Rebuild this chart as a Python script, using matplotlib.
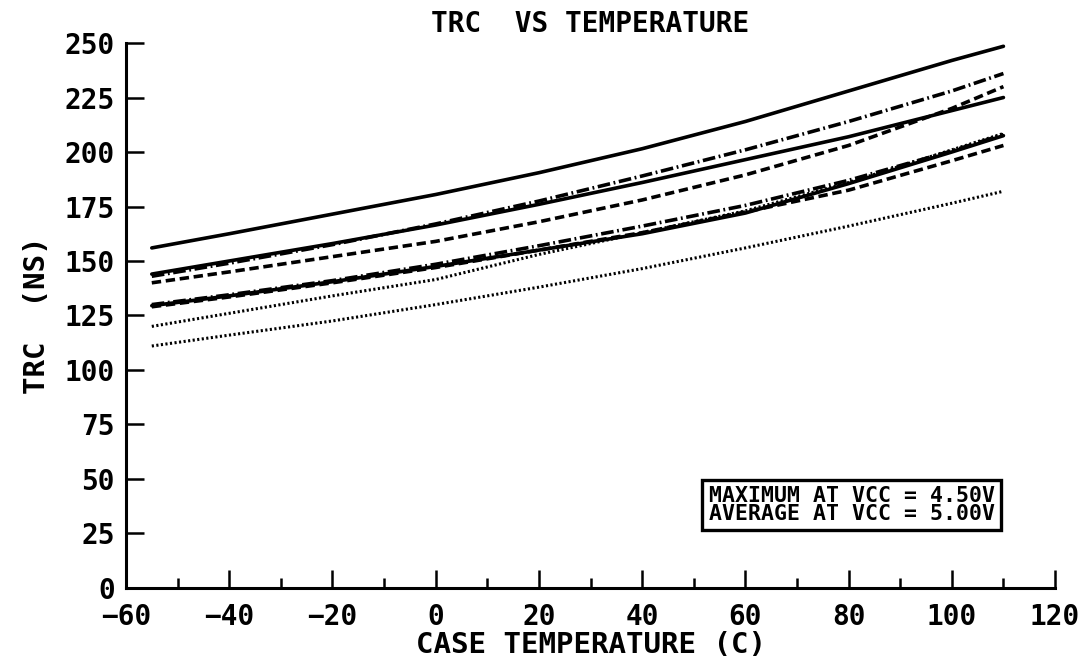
import matplotlib
matplotlib.use('Agg')
import matplotlib.pyplot as plt
import numpy as np

# temperature points (C) and TRC values (ns)
temp = [-55, -40, -20, 0, 20, 40, 60, 80, 100, 110]

trc_a = [156, 162.5, 171.5, 180.5, 190.5, 201.5, 214, 228, 242, 248.5]   # solid, top
trc_b = [143, 149, 157.5, 167, 177.5, 189, 201, 214, 228, 236]           # dash-dot, upper
trc_c = [144, 150, 158, 166.5, 176, 186, 196.5, 207, 219, 225]           # solid, upper
trc_d = [140, 145, 152, 159, 168, 178, 189.5, 203, 220, 230]             # dashed, upper
trc_e = [129.5, 134, 140.5, 147.5, 155, 162.5, 172, 185.5, 200, 207.5]   # solid, lower
trc_f = [130, 134.5, 141, 148.5, 157, 166, 175.5, 187, 200.5, 208]       # dash-dot, lower
trc_g = [129, 133.5, 140, 147, 155, 163, 172.5, 182.5, 196, 203]         # dashed, lower
trc_h = [120, 126, 134, 141.5, 153, 163, 173, 186, 201, 208.5]           # dotted, upper
trc_i = [111, 116, 122.5, 130, 138, 146.5, 156, 166, 176.5, 182]         # dotted, bottom

x_ticks = np.arange(-60, 121, 20)
y_ticks = np.arange(0, 251, 25)

plt.rcParams['font.family'] = ['DejaVu Sans Mono']
plt.rcParams['font.weight'] = 'bold'

fig = plt.figure(figsize=(10.87, 6.68), dpi=100)
ax = fig.add_axes([0.1159, 0.1198, 0.8547, 0.8158])

lw = 2.6
solid = dict(color='black', lw=lw, solid_capstyle='round')
ax.plot(temp, trc_a, '-', **solid)
ax.plot(temp, trc_c, '-', **solid)
ax.plot(temp, trc_e, '-', **solid)
ax.plot(temp, trc_b, color='black', lw=lw, dashes=(3.5, 1.0, 0.5, 1.0))
ax.plot(temp, trc_f, color='black', lw=lw, dashes=(3.5, 1.0, 0.5, 1.0))
ax.plot(temp, trc_d, color='black', lw=lw, dashes=(2.6, 1.3))
ax.plot(temp, trc_g, color='black', lw=lw, dashes=(2.6, 1.3))
ax.plot(temp, trc_h, color='black', lw=2.2, dashes=(0.7, 0.8))
ax.plot(temp, trc_i, color='black', lw=2.2, dashes=(0.7, 0.8))

ax.set_xlim(-60, 120)
ax.set_ylim(0, 250)
ax.set_xticks(x_ticks)
ax.set_xticks(np.arange(-50, 120, 20), minor=True)
ax.set_yticks(y_ticks)

for s in ['top', 'right']:
    ax.spines[s].set_visible(False)
for s in ['left', 'bottom']:
    ax.spines[s].set_linewidth(2.2)

ax.tick_params(axis='both', which='major', direction='in', length=13, width=1.8,
               labelsize=20)
ax.tick_params(axis='x', which='minor', direction='in', length=7, width=1.8)
ax.tick_params(axis='x', which='major', pad=11)
ax.tick_params(axis='y', which='major', pad=8)
for lab in ax.get_xticklabels() + ax.get_yticklabels():
    lab.set_fontweight('bold')

ax.set_title('TRC  VS TEMPERATURE', fontsize=20, fontweight='bold', pad=8)
ax.set_xlabel('CASE TEMPERATURE (C)', fontsize=21, fontweight='bold', labelpad=0)
ax.set_ylabel('TRC  (NS)', fontsize=21, fontweight='bold', labelpad=10)

ax.text(0.935, 0.152, 'MAXIMUM AT VCC = 4.50V\nAVERAGE AT VCC = 5.00V',
        transform=ax.transAxes, ha='right', va='center', fontsize=15.5,
        fontweight='bold', linespacing=0.85,
        bbox=dict(boxstyle='square,pad=0.3', fc='white', ec='black', lw=2.4))

fig.savefig('out.png', dpi=100)
